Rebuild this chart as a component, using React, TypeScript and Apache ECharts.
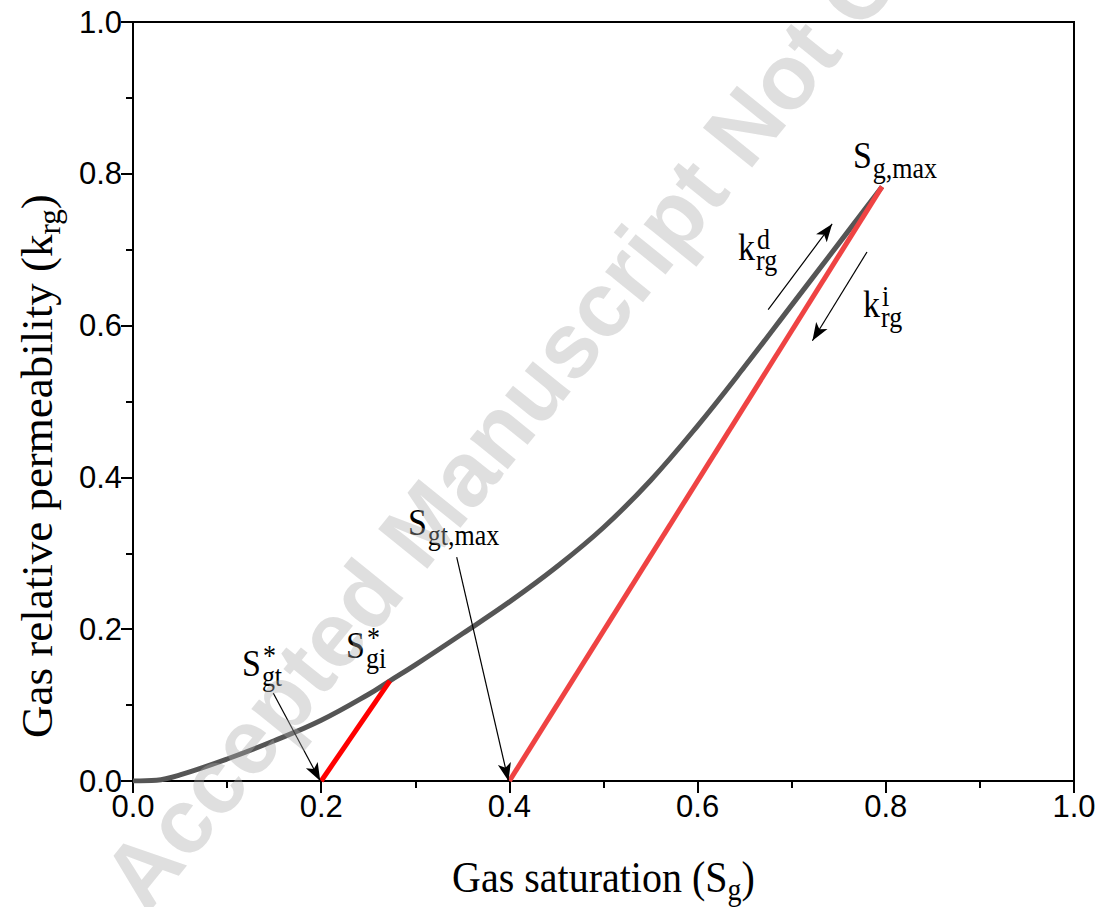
import React, { useEffect, useRef } from "react";
import * as echarts from "echarts";

// ---- data ----
const xTickValues = [0, 0.2, 0.4, 0.6, 0.8, 1.0];
const yTickValues = [0, 0.2, 0.4, 0.6, 0.8, 1.0];

// drainage curve k_rg^d (gray)
const sgDrainage = [0, 0.025, 0.05, 0.1, 0.15, 0.2, 0.25, 0.273, 0.3, 0.35, 0.4, 0.45, 0.5, 0.55, 0.6, 0.65, 0.7, 0.75, 0.796];
const krgDrainage = [0, 0.001, 0.008, 0.029, 0.053, 0.08, 0.114, 0.132, 0.153, 0.194, 0.236, 0.282, 0.334, 0.396, 0.468, 0.546, 0.627, 0.708, 0.783];

// imbibition scanning line from S*gi (red)
const sgImbScan = [0.2, 0.273];
const krgImbScan = [0, 0.132];

// imbibition line from Sg,max (light red)
const sgImbMax = [0.4, 0.796];
const krgImbMax = [0, 0.783];

// arrows [from, to] in data units
const arrowStart = [
  [0.149, 0.116],
  [0.344, 0.295],
  [0.675, 0.621],
  [0.78, 0.697],
];
const arrowEnd = [
  [0.199, 0.0],
  [0.399, 0.0],
  [0.743, 0.734],
  [0.722, 0.58],
];

// annotation labels: main letter with subscript / superscript
const labelMain = ["S", "S", "S", "S", "k", "k"];
const labelSub = ["gt", "gi", "gt,max", "g,max", "rg", "rg"];
const labelSup = ["*", "*", "", "", "d", "i"];
const labelAt = [
  [0.1158, 0.1383],
  [0.2264, 0.1621],
  [0.2922, 0.3241],
  [0.7651, 0.8076],
  [0.6429, 0.6864],
  [0.7758, 0.6113],
];

const SERIF = '"Liberation Serif", "Times New Roman", serif';
const SANS = '"Liberation Sans", Arial, sans-serif';

function zip(xs: number[], ys: number[]) {
  return xs.map((x, i) => [x, ys[i]]);
}

let measureCtx: CanvasRenderingContext2D | null = null;
function textWidth(text: string, size: number, family: string) {
  if (!measureCtx) measureCtx = document.createElement("canvas").getContext("2d");
  measureCtx!.font = `${size}px ${family}`;
  return measureCtx!.measureText(text).width;
}

function txt(text: string, x: number, baseline: number, size: number, family: string, extra: any = {}) {
  return {
    type: "text",
    x,
    y: baseline - 0.34 * size,
    style: {
      text,
      font: `${size}px ${family}`,
      fill: "#000",
      align: "left",
      verticalAlign: "middle",
      textAlign: "left",
      textVerticalAlign: "middle",
      ...extra,
    },
  };
}

export default function App() {
  const ref = useRef<HTMLDivElement>(null);

  useEffect(() => {
    document.body.style.margin = "0";
    const chart = echarts.init(ref.current!, null, { renderer: "svg" });

    const axisCommon = {
      type: "value",
      min: 0,
      max: 1,
      interval: 0.2,
      axisLine: { show: true, onZero: false, lineStyle: { color: "#000", width: 2 } },
      axisTick: { show: true, inside: false, length: 12, lineStyle: { color: "#000", width: 2 } },
      minorTick: { show: true, splitNumber: 2, length: 7, lineStyle: { color: "#000", width: 2 } },
      splitLine: { show: false },
      minorSplitLine: { show: false },
      axisLabel: {
        fontFamily: SANS,
        fontSize: 31,
        color: "#000",
        formatter: (v: number) => v.toFixed(1),
      },
    };

    const option: any = {
      animation: false,
      backgroundColor: "#fff",
      grid: {
        left: 133,
        right: 28,
        top: 22,
        bottom: 126,
        show: true,
        borderColor: "#000",
        borderWidth: 2,
        containLabel: false,
      },
      xAxis: { ...axisCommon, axisLabel: { ...axisCommon.axisLabel, margin: 10 } },
      yAxis: { ...axisCommon, axisLabel: { ...axisCommon.axisLabel, margin: 11 } },
      series: [
        {
          type: "line",
          name: "drainage",
          data: zip(sgDrainage, krgDrainage),
          smooth: 0.4,
          showSymbol: false,
          symbol: "none",
          lineStyle: { color: "#555555", width: 5, join: "round" },
          z: 2,
        },
        {
          type: "line",
          name: "scan",
          data: zip(sgImbScan, krgImbScan),
          showSymbol: false,
          symbol: "none",
          lineStyle: { color: "#ff0000", width: 5 },
          z: 3,
        },
        {
          type: "line",
          name: "imbibition",
          data: zip(sgImbMax, krgImbMax),
          showSymbol: false,
          symbol: "none",
          lineStyle: { color: "#ef4343", width: 5 },
          z: 3,
        },
        {
          type: "line",
          name: "arrows",
          data: [],
          symbol: "none",
          z: 4,
          markLine: {
            silent: true,
            animation: false,
            symbol: ["none", "arrow"],
            symbolSize: [10, 18],
            label: { show: false },
            lineStyle: { color: "#000", width: 1.2, type: "solid" },
            emphasis: { disabled: true },
            data: arrowStart.map((s, i) => [{ coord: s }, { coord: arrowEnd[i] }]),
          },
        },
      ],
    };
    chart.setOption(option);

    const graphics: any[] = [];
    // annotation labels
    labelMain.forEach((m, i) => {
      const p = chart.convertToPixel({ gridIndex: 0 }, labelAt[i]) as number[];
      const mainSize = 34;
      const subSize = 26;
      const w = textWidth(m, mainSize, SERIF);
      const children: any[] = [txt(m, 0, 0, mainSize, SERIF)];
      if (labelSub[i]) children.push(txt(labelSub[i], w + 1, 9, subSize, SERIF));
      if (labelSup[i]) children.push(txt(labelSup[i], w + 2, -10, subSize, SERIF));
      graphics.push({ type: "group", x: p[0], y: p[1], scaleY: 1.12, children, z: 50 });
    });

    // x axis title
    {
      const size = 40;
      const subSize = 28;
      const a = "Gas saturation (S";
      const wa = textWidth(a, size, SERIF);
      const wb = textWidth("g", subSize, SERIF);
      const wc = textWidth(")", size, SERIF);
      const total = wa + wb + wc;
      const cx = 133 + (1074 - 133) / 2;
      graphics.push({
        type: "group",
        x: cx - total / 2,
        y: 892,
        scaleY: 1.12,
        z: 50,
        children: [
          txt(a, 0, 0, size, SERIF),
          txt("g", wa, 7, subSize, SERIF),
          txt(")", wa + wb, 0, size, SERIF),
        ],
      });
    }
    // y axis title
    {
      const size = 45;
      const subSize = 31;
      const a = "Gas relative permeability (k";
      const wa = textWidth(a, size, SERIF);
      const wb = textWidth("rg", subSize, SERIF);
      graphics.push({
        type: "group",
        x: 52,
        y: 738,
        rotation: Math.PI / 2,
        z: 50,
        children: [
          txt(a, 0, 0, size, SERIF),
          txt("rg", wa, 8, subSize, SERIF),
          txt(")", wa + wb, 0, size, SERIF),
        ],
      });
    }
    // watermark
    graphics.push({
      type: "text",
      x: 122,
      y: 895,
      rotation: (51 * Math.PI) / 180,
      z: 100,
      silent: true,
      style: {
        text: "Accepted Manuscript Not Copyedited",
        font: `bold 92px ${SANS}`,
        fill: "rgba(170,170,170,0.38)",
        align: "left",
        verticalAlign: "middle",
        textAlign: "left",
        textVerticalAlign: "middle",
      },
    });

    chart.setOption({ graphic: graphics });

    return () => chart.dispose();
  }, []);

  return <div ref={ref} style={{ width: 1102, height: 907 }} />;
}
